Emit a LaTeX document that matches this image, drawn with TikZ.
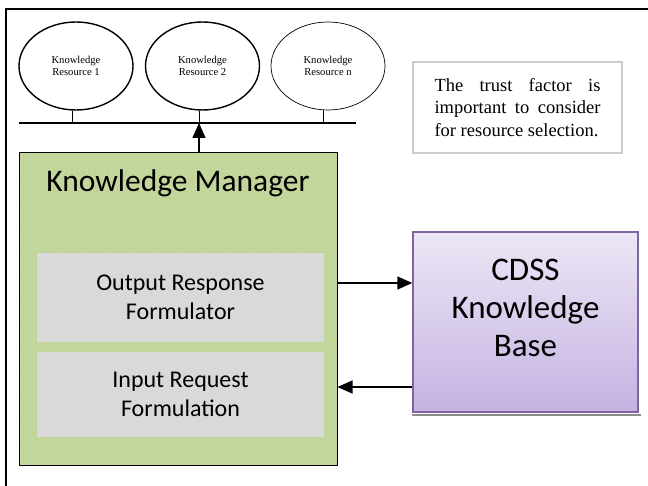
\documentclass[tikz,border=0pt]{standalone}
\usepackage{fontspec}
\setmainfont{Liberation Serif}
\setsansfont{Carlito}
\usetikzlibrary{shapes.geometric,arrows.meta,patterns.meta}

\definecolor{kmgreen}{HTML}{C3D69B}
\definecolor{kmdot}{HTML}{8EAA52}
\definecolor{boxgray}{HTML}{D9D9D9}
\definecolor{kbtop}{HTML}{ECE7F5}
\definecolor{kbbottom}{HTML}{C5B2E2}
\definecolor{kbline}{HTML}{8064A2}

\tikzset{
  resource/.style={shape=ellipse,draw=black,line width=1.4pt,minimum width=114pt,minimum height=88pt,
    inner sep=0pt,align=center,font=\fontsize{10.6}{11.5}\selectfont},
  part/.style={fill=boxgray,minimum width=287pt,align=center,font=\sffamily\fontsize{24}{29}\selectfont},
  flow/.style={line width=1.4pt,-{Triangle[length=15pt,width=13pt]}},
}

\begin{document}
\begin{tikzpicture}[x=1pt,y=-1pt]
\useasboundingbox (0,0) rectangle (648,486);
\clip (0,0) rectangle (648,486);
\draw[line width=1.4pt] (6,9) rectangle (660,500);

% knowledge resources on the bus
\node[resource] (res1) at (76,66) {Knowledge\\Resource 1};
\node[resource] (res2) at (202.5,66) {Knowledge\\Resource 2};
\node[resource,line width=0.7pt] (resn) at (328,66) {Knowledge\\Resource n};

\coordinate (busL) at (19,123);
\coordinate (busR) at (356,123);
\coordinate (tap) at (199,123);
\draw[line width=1.4pt] (busL) -- (busR);
\draw[line width=0.9pt] ([xshift=-4pt]res1.south) -- ([xshift=-4pt]res1.south |- busL);
\draw[line width=0.9pt] ([xshift=-3.5pt]res2.south) -- ([xshift=-3.5pt]res2.south |- busL);
\draw[line width=0.9pt] ([xshift=-5pt]resn.south) -- ([xshift=-5pt]resn.south |- busL);

\node[draw=black!20,line width=1.2pt,minimum width=209pt,minimum height=91pt,align=left,
  font=\fontsize{18.5}{22.5}\selectfont] (note) at (517.5,107.5)
  {\makebox[166pt][s]{The trust factor is}\\\makebox[166pt][s]{important to consider}\\for resource selection.};

% knowledge manager
\node[draw=black,line width=1pt,fill=kmgreen,minimum width=318pt,minimum height=312pt,
  postaction={pattern={Dots[distance=6pt,radius=0.45pt]},pattern color=kmdot}] (km) at (178,309) {};
\node[font=\sffamily\fontsize{31.5}{36}\selectfont] (kmtitle) at (178,183) {Knowledge Manager};
\node[part,minimum height=89pt] (out) at (180.5,297.5) {Output Response\\Formulator};
\node[part,minimum height=85pt] (in) at (180.5,394.5) {Input Request\\Formulation};

% knowledge base
\node[draw=kbline,line width=1.4pt,top color=kbtop,bottom color=kbbottom,
  minimum width=225pt,minimum height=180pt] (kb) at (525.5,322) {};
\fill[black!45] ([yshift=-0.8pt]kb.south west) rectangle ([xshift=2pt,yshift=-3.5pt]kb.south east);
\node[align=center,font=\sffamily\fontsize{33}{38}\selectfont] (kbtext) at (525.5,308) {CDSS\\Knowledge\\Base};

\draw[flow] (km.north -| tap) -- (tap);
\draw[flow] (km.east |- 375,283) -- (kb.west |- 375,283);
\draw[flow] (kb.west |- 375,387) -- (km.east |- 375,387);
\end{tikzpicture}
\end{document}
